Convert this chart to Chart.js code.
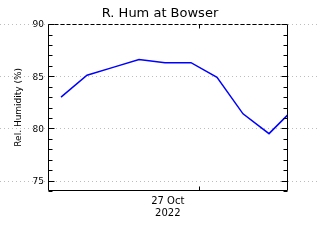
<!DOCTYPE html>
<html>
<head>
<meta charset="utf-8">
<script src="https://cdn.jsdelivr.net/npm/chart.js@4"></script>
<style>
  html, body { margin: 0; padding: 0; background: #fff; }
  canvas { display: block; }
</style>
</head>
<body>
<canvas id="myChart" width="320" height="240"></canvas>
<script>
// hourly readings, hours counted from the left edge of the plot
const hours = [0.5, 1.5, 2.5, 3.5, 4.5, 5.5, 6.5, 7.5, 8.5, 9.5]
const humidity = [83.0, 85.1, 85.85, 86.6, 86.3, 86.3, 84.9, 81.4, 79.5, 82.0]
const yTicks = [75, 80, 85, 90]
const dayTick = [5.8]
const dayLabel = ['27 Oct', '2022']

const xMin = 0, xMax = 9.23
const yMin = 74, yMax = 90.05

// dotted grid across the whole width, IDL-style box and inward ticks
const frame = {
  id: 'frame',
  beforeDatasetsDraw(chart) {
    const ctx = chart.ctx
    const y = chart.scales.y
    ctx.save()
    ctx.strokeStyle = '#bdbdbd'
    ctx.lineWidth = 1
    ctx.setLineDash([1, 3])
    yTicks.forEach(v => {
      const py = Math.round(y.getPixelForValue(v)) + 0.5
      ctx.beginPath()
      ctx.moveTo(0, py)
      ctx.lineTo(chart.width, py)
      ctx.stroke()
    })
    ctx.restore()
  },
  afterDatasetsDraw(chart) {
    const ctx = chart.ctx
    const a = chart.chartArea
    const x = chart.scales.x
    const y = chart.scales.y
    const L = Math.round(a.left) + 0.5, R = Math.round(a.right) - 0.5
    const T = Math.round(a.top) + 0.5, B = Math.round(a.bottom) - 0.5
    ctx.save()
    ctx.strokeStyle = '#000'
    ctx.lineWidth = 1
    ctx.beginPath()
    ctx.moveTo(L, T); ctx.lineTo(L, B); ctx.lineTo(R, B); ctx.lineTo(R, T)
    ctx.stroke()
    ctx.setLineDash([4, 2])
    ctx.beginPath()
    ctx.moveTo(L, T); ctx.lineTo(R, T)
    ctx.stroke()
    ctx.setLineDash([])
    ctx.beginPath()
    for (let v = Math.ceil(yMin); v <= Math.floor(yMax); v++) {
      const py = Math.round(y.getPixelForValue(v)) + 0.5
      const len = v % 5 === 0 ? 6 : 4
      ctx.moveTo(L, py); ctx.lineTo(L + len, py)
      ctx.moveTo(R, py); ctx.lineTo(R - len, py)
    }
    dayTick.forEach(v => {
      const px = Math.round(x.getPixelForValue(v)) + 0.5
      ctx.moveTo(px, B); ctx.lineTo(px, B - 4)
      ctx.moveTo(px, T); ctx.lineTo(px, T + 4)
    })
    ctx.stroke()
    ctx.restore()
  }
}

const ctx = document.getElementById('myChart')
const data = {
  datasets: [{
    data: hours.map((h, i) => ({ x: h, y: humidity[i] })),
    borderColor: '#0000ff',
    borderWidth: 1.5,
    pointRadius: 0,
    tension: 0,
    fill: false
  }]
}

const config = {
  type: 'line',
  data: data,
  options: {
    responsive: false,
    animation: false,
    layout: { padding: 0 },
    plugins: {
      legend: { display: false },
      tooltip: { enabled: false },
      title: {
        display: true,
        text: 'R. Hum at Bowser',
        color: '#000',
        font: { family: 'DejaVu Sans', size: 13, weight: 'normal' },
        padding: { top: 6, bottom: 2 }
      }
    },
    scales: {
      x: {
        type: 'linear',
        min: xMin,
        max: xMax,
        grid: { display: false, drawTicks: false },
        border: { display: false },
        ticks: {
          color: '#000',
          font: { family: 'DejaVu Sans', size: 10 },
          padding: 4,
          maxRotation: 0,
          labelOffset: -31,
          callback: () => dayLabel
        },
        afterBuildTicks: s => { s.ticks = dayTick.map(v => ({ value: v })) },
        afterFit: s => { s.height = 49 }
      },
      y: {
        position: 'left',
        min: yMin,
        max: yMax,
        grid: { display: false, drawTicks: false },
        border: { display: false },
        ticks: {
          color: '#000',
          font: { family: 'DejaVu Sans', size: 9 },
          padding: 4,
          labelOffset: 1,
          callback: v => v
        },
        afterBuildTicks: s => { s.ticks = yTicks.map(v => ({ value: v })) },
        title: {
          display: true,
          text: 'Rel. Humidity (%)',
          color: '#000',
          font: { family: 'DejaVu Sans', size: 9 },
          padding: { top: 13, bottom: 0 }
        },
        afterFit: s => { s.width = 48 }
      },
      y2: {
        position: 'right',
        min: yMin,
        max: yMax,
        grid: { display: false, drawTicks: false },
        border: { display: false },
        ticks: { display: false },
        afterFit: s => { s.width = 32 }
      }
    }
  },
  plugins: [frame]
}

const myChart = new Chart(ctx, config)
</script>
</body>
</html>
